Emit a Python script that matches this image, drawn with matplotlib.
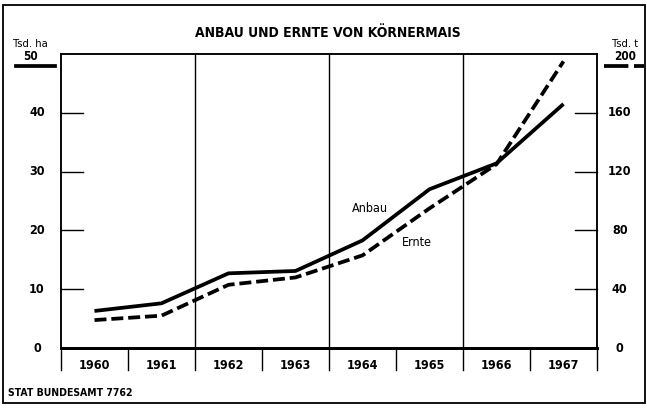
import matplotlib.pyplot as plt
from matplotlib.patches import Rectangle
from matplotlib.lines import Line2D

plt.rcParams['font.family'] = ['DejaVu Sans']
plt.rcParams['font.stretch'] = 'condensed'

jahre = ['1960', '1961', '1962', '1963', '1964', '1965', '1966', '1967']
anbau = [6.3, 7.6, 12.7, 13.1, 18.3, 27.0, 31.4, 41.5]        # Tsd. ha
ernte = [19, 22, 43, 48, 63, 95, 125, 195]                     # Tsd. t
ticks_links = [0, 10, 20, 30, 40]
ticks_rechts = [0, 40, 80, 120, 160]

W, H = 647, 412
fig = plt.figure(figsize=(W/100, H/100), dpi=100)
ax = fig.add_axes([61/W, 1-348/H, (597-61)/W, (348-54)/H])
ax2 = ax.twinx()

x = list(range(len(jahre)))
ax.plot(x, anbau, color='black', lw=2.7, solid_joinstyle='round', solid_capstyle='butt')
ax2.plot(x, ernte, color='black', lw=2.7, dashes=(3.2, 1.3), dash_capstyle='butt')

ax.set_xlim(-0.5, len(jahre)-0.5)
ax.set_ylim(0, 50)
ax2.set_ylim(0, 200)

# Jahresgrenzen
for g in [1.5, 3.5, 5.5]:
    ax.axvline(g, color='black', lw=1.0)

for a in (ax, ax2):
    a.set_xticks([])
    a.set_yticks([])
    for s in a.spines.values():
        s.set_linewidth(1.1)
    a.spines['bottom'].set_linewidth(2.0)

# innere Teilstriche
for v in ticks_links[1:]:
    ax.plot([-0.5, -0.17], [v, v], color='black', lw=1.0, clip_on=False)
    ax.text(-0.86, v, str(v), ha='center', va='center', fontsize=9, fontweight='bold')
ax.text(-0.86, 0, '0', ha='center', va='center', fontsize=9, fontweight='bold')
for v in ticks_rechts[1:]:
    ax2.plot([7.17, 7.5], [v, v], color='black', lw=1.0, clip_on=False)
    ax2.text(7.84, v, str(v), ha='center', va='center', fontsize=9, fontweight='bold')
ax2.text(7.84, 0, '0', ha='center', va='center', fontsize=9, fontweight='bold')

# Jahreszahlen unter der Achse
tr = ax.get_xaxis_transform()
for i, j in enumerate(jahre):
    ax.text(i, -0.058, j, transform=tr, ha='center', va='center', fontsize=9, fontweight='bold')
for g in [i + 0.5 for i in range(-1, len(jahre))]:
    ax.plot([g, g], [0, -0.075], transform=tr, color='black', lw=1.0, clip_on=False)

ax.text(4.11, 23.8, 'Anbau', ha='center', va='center', fontsize=9)
ax.text(4.81, 18.0, 'Ernte', ha='center', va='center', fontsize=9)

fig.text(328/W, 1-33/H, 'ANBAU UND ERNTE VON KÖRNERMAIS', ha='center', va='center',
         fontsize=10, fontweight='bold')
fig.text(30/W, 1-44/H, 'Tsd. ha', ha='center', va='center', fontsize=8)
fig.text(30/W, 1-56/H, '50', ha='center', va='center', fontsize=8.5, fontweight='bold')
fig.text(625/W, 1-44/H, 'Tsd. t', ha='center', va='center', fontsize=8)
fig.text(625/W, 1-56/H, '200', ha='center', va='center', fontsize=8.5, fontweight='bold')
fig.text(8/W, 1-393/H, 'STAT BUNDESAMT 7762', ha='left', va='center', fontsize=7.5,
         fontweight='bold')

# Legendenbalken
fig.add_artist(Line2D([16/W, 55/W], [1-66/H, 1-66/H], color='black', lw=2.7))
fig.add_artist(Line2D([604/W, 644/W], [1-66/H, 1-66/H], color='black', lw=2.7,
                      dashes=(6.5, 1.5)))

# Rahmen
fig.add_artist(Rectangle((3/W, 1-403/H), 642/W, 398/H, fill=False, lw=1.3,
                         edgecolor='black', transform=fig.transFigure))

fig.savefig('out.png', dpi=100)
